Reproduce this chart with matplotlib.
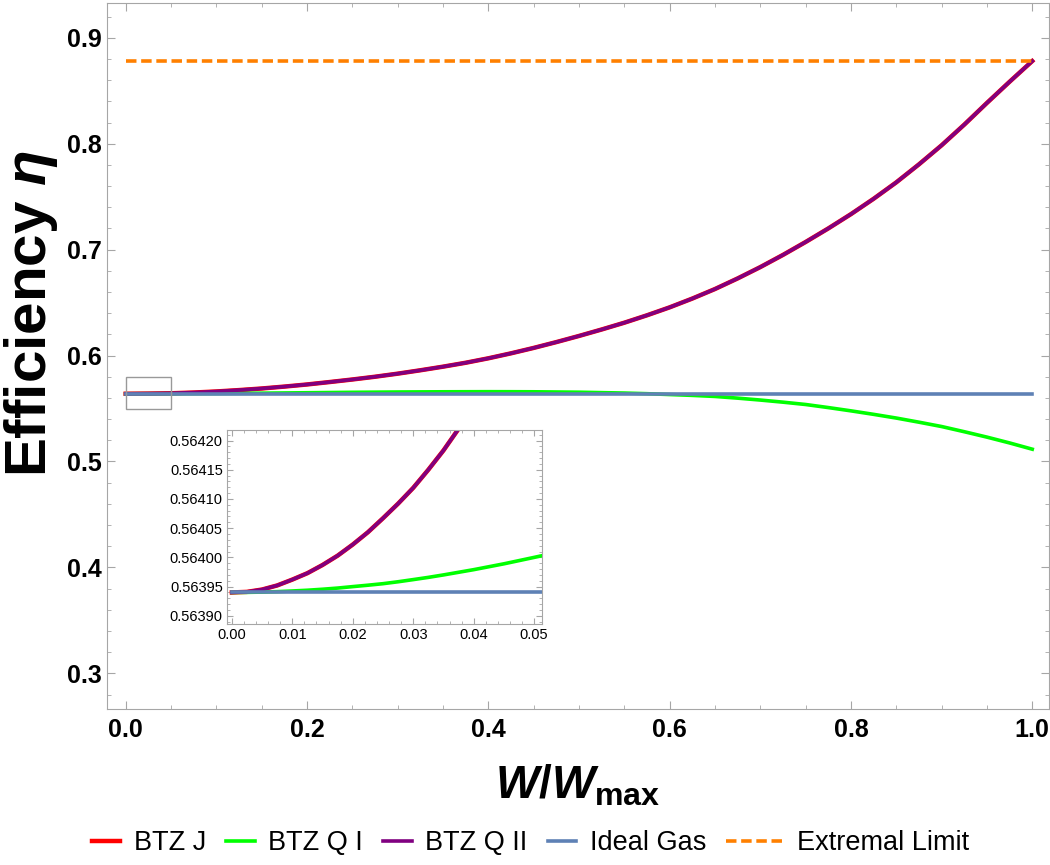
import numpy as np
import matplotlib
matplotlib.use("Agg")
from matplotlib import pyplot as plt
from matplotlib.ticker import MultipleLocator, FormatStrFormatter
from matplotlib.patches import Rectangle
from matplotlib.legend_handler import HandlerLine2D

plt.rcParams['font.family'] = ['Liberation Sans', 'DejaVu Sans']
plt.rcParams['mathtext.fontset'] = 'custom'
plt.rcParams['mathtext.rm'] = 'Liberation Sans:bold'
plt.rcParams['mathtext.it'] = 'Liberation Sans:bold:italic'
plt.rcParams['mathtext.bf'] = 'Liberation Sans:bold'

# W/W_max grid
w = [0.000, 0.025, 0.050, 0.075, 0.100, 0.125, 0.150, 0.175, 0.200, 0.225,
     0.250, 0.275, 0.300, 0.325, 0.350, 0.375, 0.400, 0.425, 0.450, 0.475,
     0.500, 0.525, 0.550, 0.575, 0.600, 0.625, 0.650, 0.675, 0.700, 0.725,
     0.750, 0.775, 0.800, 0.825, 0.850, 0.875, 0.900, 0.925, 0.950, 0.975,
     1.000]
btz_j = [0.56394, 0.5641, 0.5644, 0.5651, 0.5661, 0.5674, 0.5689, 0.5707,
         0.5727, 0.5750, 0.5774, 0.5800, 0.5829, 0.5861, 0.5895, 0.5932,
         0.5974, 0.6021, 0.6072, 0.6127, 0.6185, 0.6246, 0.6310, 0.6380,
         0.6455, 0.6538, 0.6628, 0.6728, 0.6835, 0.6950, 0.7072, 0.7200,
         0.7335, 0.7480, 0.7635, 0.7805, 0.7985, 0.8180, 0.8385, 0.8585,
         0.8780]
btz_q1 = [0.56394, 0.56397, 0.5640, 0.5641, 0.5642, 0.56435, 0.5645, 0.5647,
          0.5649, 0.5651, 0.5653, 0.56545, 0.5656, 0.5657, 0.5658, 0.56585,
          0.5659, 0.56587, 0.5658, 0.5656, 0.5654, 0.5650, 0.5646, 0.5640,
          0.5632, 0.5624, 0.5614, 0.5598, 0.5580, 0.5560, 0.5538, 0.5509,
          0.5478, 0.5445, 0.5410, 0.5371, 0.5330, 0.5281, 0.5230, 0.5175,
          0.5116]
btz_q2 = btz_j
ideal_gas = [0.56394] * len(w)
extremal = [0.8780] * len(w)

# zoomed-in values near W = 0 (inset)
w_in = [0.0000, 0.0025, 0.0050, 0.0075, 0.0100, 0.0125, 0.0150, 0.0175,
        0.0200, 0.0225, 0.0250, 0.0275, 0.0300, 0.0325, 0.0350, 0.0375,
        0.0400, 0.0425, 0.0450, 0.0475, 0.0500, 0.0520]
btz_j_in = [0.563940, 0.563941, 0.563945, 0.563952, 0.563962, 0.563973,
            0.563987, 0.564003, 0.564022, 0.564043, 0.564067, 0.564092,
            0.564119, 0.564150, 0.564183, 0.564220, 0.564258, 0.564300,
            0.564345, 0.564390, 0.564440, 0.564480]
btz_q1_in = [0.56394000, 0.56394015, 0.56394060, 0.56394140, 0.56394250,
             0.56394380, 0.56394550, 0.56394750, 0.56395000, 0.56395240,
             0.56395500, 0.56395830, 0.56396200, 0.56396580, 0.56397000,
             0.56397450, 0.56397900, 0.56398400, 0.56398900, 0.56399450,
             0.56400000, 0.56400450]
btz_q2_in = btz_j_in
ideal_gas_in = [0.563940] * len(w_in)

labels = ["BTZ J", "BTZ Q I", "BTZ Q II", "Ideal Gas", "Extremal Limit"]
colors = ["#ff0000", "#00ff00", "#800080", "#5e81b5", "#ff8000"]
frame = "#a6a6a6"


class LongDashHandler(HandlerLine2D):
    # the dashed entry gets a handle twice as long, as in the original
    def legend_artist(self, legend, orig_handle, fontsize, handlebox):
        handlebox.width *= 2
        return super().legend_artist(legend, orig_handle, fontsize, handlebox)


fig = plt.figure(figsize=(10.5, 8.65), dpi=100)
ax = fig.add_axes([0.1019, 0.1803, 0.8971, 0.8162])

lw = 2.6
ax.plot(w, btz_j, color=colors[0], lw=lw + 0.6, label=labels[0])
ax.plot(w, btz_q1, color=colors[1], lw=lw, label=labels[1])
ax.plot(w, btz_q2, color=colors[2], lw=lw, label=labels[2])
ax.plot(w, ideal_gas, color=colors[3], lw=lw, label=labels[3])
ext_line, = ax.plot(w, extremal, color=colors[4], lw=lw, dashes=(2.9, 1.3),
                    label=labels[4])

ax.set_xlim(-0.0206, 1.0184)
ax.set_ylim(0.2663, 0.9328)
ax.xaxis.set_major_locator(MultipleLocator(0.2))
ax.xaxis.set_minor_locator(MultipleLocator(0.05))
ax.yaxis.set_major_locator(MultipleLocator(0.1))
ax.yaxis.set_minor_locator(MultipleLocator(0.02))
ax.xaxis.set_major_formatter(FormatStrFormatter('%.1f'))
ax.yaxis.set_major_formatter(FormatStrFormatter('%.1f'))
for s in ax.spines.values():
    s.set_color(frame)
ax.tick_params(which='both', direction='in', top=True, right=True, color=frame)
ax.tick_params(which='major', length=5.5, labelsize=18)
ax.tick_params(which='minor', length=3)
ax.tick_params(axis='x', pad=6.5)
ax.tick_params(axis='y', pad=4)
for t in ax.get_xticklabels() + ax.get_yticklabels():
    t.set_fontweight('bold')

ax.set_xlabel(r'$W/W_{\mathrm{max}}$', fontsize=33)
ax.xaxis.set_label_coords(0.5, -0.108)
ax.xaxis.label.set_va('center')
ax.set_ylabel(r'Efficiency $\eta$', fontsize=42, fontweight='bold')
ax.yaxis.set_label_coords(-0.0807, 0.56)
ax.yaxis.label.set_va('center')

# inset
ins = fig.add_axes([0.2162, 0.2786, 0.3, 0.2243])
ins.plot(w_in, btz_j_in, color=colors[0], lw=lw + 0.6)
ins.plot(w_in, btz_q1_in, color=colors[1], lw=lw)
ins.plot(w_in, btz_q2_in, color=colors[2], lw=lw)
ins.plot(w_in, ideal_gas_in, color=colors[3], lw=lw)
ins.set_xlim(-0.0008, 0.0513)
ins.set_ylim(0.563886, 0.564218)
ins.xaxis.set_major_locator(MultipleLocator(0.01))
ins.xaxis.set_minor_locator(MultipleLocator(0.002))
ins.yaxis.set_major_locator(MultipleLocator(0.00005))
ins.yaxis.set_minor_locator(MultipleLocator(0.00001))
ins.xaxis.set_major_formatter(FormatStrFormatter('%.2f'))
ins.yaxis.set_major_formatter(FormatStrFormatter('%.5f'))
for s in ins.spines.values():
    s.set_color(frame)
ins.tick_params(which='both', direction='in', top=True, right=True, color=frame)
ins.tick_params(which='major', length=4, labelsize=10.5, pad=3)
ins.tick_params(which='minor', length=2)

# box marking the zoomed region on the main plot
x0, x1 = 0.0, 0.05
ax.add_patch(Rectangle((x0, 0.5491), x1 - x0, 0.0302, fill=False,
                       edgecolor='#999999', lw=1, zorder=5))

fig.legend(*ax.get_legend_handles_labels(), loc='center', ncol=5,
           bbox_to_anchor=(0.505, 0.025), frameon=False, fontsize=19.5,
           handlelength=1.05, handletextpad=0.5, columnspacing=0.75,
           handler_map={ext_line: LongDashHandler()})

fig.savefig("out.png", dpi=100)
